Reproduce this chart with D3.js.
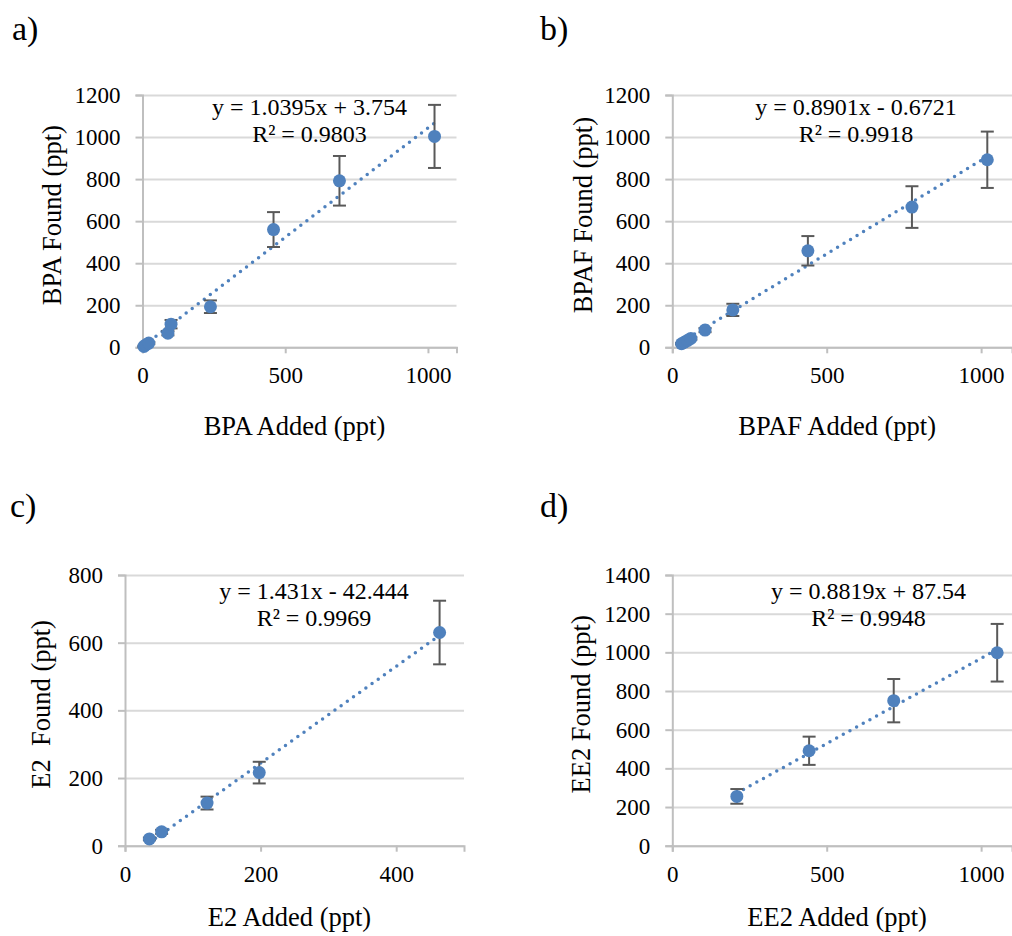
<!DOCTYPE html>
<html>
<head>
<meta charset="utf-8">
<script src="https://cdn.jsdelivr.net/npm/d3@7"></script>
<style>
	body { margin: 0; background: #fff; }
	svg text { font-family: "Liberation Serif", "Times New Roman", serif; fill: #000; }
</style>
</head>
<body>
<div id="chart-area"></div>
<script>
// values
let bpaAdded = [5, 12, 22, 89, 100, 238, 459, 690, 1023];
let bpaFound = [4, 12, 20, 67, 110, 193, 560, 792, 1003];
let bpaErr = [3, 4, 5, 10, 20, 30, 83, 118, 150];

let bpafAdded = [30, 40, 50, 60, 106, 196, 439, 776, 1020];
let bpafFound = [17, 25, 33, 42, 82, 178, 459, 667, 892];
let bpafErr = [3, 4, 5, 6, 10, 29, 70, 99, 134];

let e2Added = [36, 54, 121, 198, 464];
let e2Found = [20, 41, 126, 216, 630];
let e2Err = [4, 6, 19, 32, 94];

let ee2Added = [209, 443, 717, 1052];
let ee2Found = [255, 491, 750, 998];
let ee2Err = [38, 73, 112, 149];

// trendline y = slope*x + intercept
let slopes = [1.0395, 0.8901, 1.431, 0.8819];
let intercepts = [3.754, -0.6721, -42.444, 87.54];
let eqLabels = ["y = 1.0395x + 3.754", "y = 0.8901x - 0.6721", "y = 1.431x - 42.444", "y = 0.8819x + 87.54"];
let r2Labels = ["R² = 0.9803", "R² = 0.9918", "R² = 0.9969", "R² = 0.9948"];

let panelLabels = ["a)", "b)", "c)", "d)"];
let xTitles = ["BPA Added (ppt)", "BPAF Added (ppt)", "E2 Added (ppt)", "EE2 Added (ppt)"];
let yTitles = ["BPA Found (ppt)", "BPAF Found (ppt)", "E2  Found (ppt)", "EE2 Found (ppt)"];
let xTicks = [[0, 500, 1000], [0, 500, 1000], [0, 200, 400], [0, 500, 1000]];
let yTicks = [
	[0, 200, 400, 600, 800, 1000, 1200],
	[0, 200, 400, 600, 800, 1000, 1200],
	[0, 200, 400, 600, 800],
	[0, 200, 400, 600, 800, 1000, 1200, 1400]
];
let xMax = [1100, 1100, 500, 1100];

let serif = "'Liberation Serif', 'Times New Roman', serif";

let svg = d3.select("#chart-area").append("svg")
	.attr("width", 1012)
	.attr("height", 936)
	.style("font-family", serif);

svg.append("rect").attr("width", 1012).attr("height", 936).attr("fill", "#fff");

let blue = "#4f81bd";

// plot-area boxes for the four panels
let boxes = [
	{left: 142.5, top: 95, right: 456.5, bottom: 347.3, lx: 12, ly: 40, titleGap: 88},
	{left: 672.3, top: 95, right: 1012, bottom: 347.3, lx: 540, ly: 40, titleGap: 88},
	{left: 125, top: 575, right: 464, bottom: 845.7, lx: 10, ly: 517, titleGap: 80},
	{left: 672.3, top: 575, right: 1012, bottom: 845.7, lx: 540, ly: 517, titleGap: 80}
];

let panels = [
	{added: bpaAdded, found: bpaFound, err: bpaErr, eqX: 309.5, eqY: 115, yTitleX: 52},
	{added: bpafAdded, found: bpafFound, err: bpafErr, eqX: 856, eqY: 115, yTitleX: 583},
	{added: e2Added, found: e2Found, err: e2Err, eqX: 314, eqY: 599, yTitleX: 41},
	{added: ee2Added, found: ee2Found, err: ee2Err, eqX: 868.5, eqY: 599, yTitleX: 581}
];

panels.forEach((p, i) => drawPanel(p, boxes[i], i));

function drawPanel(p, box, i) {
	let data = p.added.map((x, k) => ({x: x, y: p.found[k], e: p.err[k]}));
	let yTop = yTicks[i][yTicks[i].length - 1];

	let x = d3.scaleLinear().domain([0, xMax[i]]).range([box.left, box.right]);
	let y = d3.scaleLinear().domain([0, yTop]).range([box.bottom, box.top]);

	let g = svg.append("g");

	// panel letter
	g.append("text")
		.attr("x", box.lx)
		.attr("y", box.ly)
		.style("font-size", "34px")
		.text(panelLabels[i]);

	// horizontal gridlines
	g.append("g")
		.attr("transform", "translate(" + box.left + ",0)")
		.call(d3.axisLeft(y).tickValues(yTicks[i]).tickSize(-(box.right - box.left)).tickFormat(""))
		.call(s => s.select(".domain").remove())
		.call(s => s.selectAll("line").attr("stroke", "#d9d9d9").attr("stroke-width", 2));

	// y axis
	let yAxis = g.append("g")
		.attr("transform", "translate(" + box.left + ",0)")
		.call(d3.axisLeft(y).tickValues(yTicks[i]).tickSizeOuter(0).tickSize(7).tickPadding(15).tickFormat(d3.format("d")))
		.attr("font-family", serif);
	yAxis.selectAll("line").attr("stroke", "#bfbfbf").attr("stroke-width", 2);
	yAxis.select(".domain").attr("stroke", "#bfbfbf").attr("stroke-width", 2);
	yAxis.selectAll("text").style("font-size", "23px").style("font-family", serif).attr("fill", "#000");

	// x axis
	let xAxis = g.append("g")
		.attr("transform", "translate(0," + box.bottom + ")")
		.call(d3.axisBottom(x).tickValues(xTicks[i]).tickSizeOuter(0).tickSize(6).tickFormat(d3.format("d")))
		.attr("font-family", serif);
	xAxis.selectAll("line").attr("stroke", "#bfbfbf").attr("stroke-width", 2);
	xAxis.select(".domain").attr("stroke", "#bfbfbf").attr("stroke-width", 2);
	xAxis.selectAll("text").style("font-size", "23px").style("font-family", serif).attr("fill", "#000")
		.attr("y", 36).attr("dy", null);

	// axis titles
	g.append("text")
		.attr("x", (box.left + box.right) / 2 - 5)
		.attr("y", box.bottom + box.titleGap)
		.attr("text-anchor", "middle")
		.style("font-size", "26.5px")
		.text(xTitles[i]);

	g.append("text")
		.attr("transform", "translate(" + p.yTitleX + "," + ((box.top + box.bottom) / 2 - 6) + ") rotate(-90)")
		.attr("text-anchor", "middle")
		.attr("dy", "0.35em")
		.style("font-size", "26.5px")
		.style("white-space", "pre")
		.attr("xml:space", "preserve")
		.text(yTitles[i]);

	// dotted linear trendline across the data range
	let x0 = d3.min(p.added), x1 = d3.max(p.added);
	g.append("line")
		.attr("x1", x(x0))
		.attr("y1", y(slopes[i] * x0 + intercepts[i]))
		.attr("x2", x(x1))
		.attr("y2", y(slopes[i] * x1 + intercepts[i]))
		.attr("stroke", blue)
		.attr("stroke-width", 3.5)
		.attr("stroke-linecap", "round")
		.attr("stroke-dasharray", "0,7.6");

	// error bars
	let bars = g.selectAll(".err").data(data).enter().append("g").attr("class", "err")
		.attr("stroke", "#595959").attr("stroke-width", 2);
	bars.append("line")
		.attr("x1", d => x(d.x)).attr("x2", d => x(d.x))
		.attr("y1", d => y(d.y - d.e)).attr("y2", d => y(d.y + d.e));
	bars.append("line")
		.attr("x1", d => x(d.x) - 6.5).attr("x2", d => x(d.x) + 6.5)
		.attr("y1", d => y(d.y + d.e)).attr("y2", d => y(d.y + d.e));
	bars.append("line")
		.attr("x1", d => x(d.x) - 6.5).attr("x2", d => x(d.x) + 6.5)
		.attr("y1", d => y(d.y - d.e)).attr("y2", d => y(d.y - d.e));

	// markers
	g.selectAll(".pt").data(data).enter().append("circle")
		.attr("class", "pt")
		.attr("cx", d => x(d.x))
		.attr("cy", d => y(d.y))
		.attr("r", 6.5)
		.attr("fill", blue);

	// trendline equation
	g.append("text")
		.attr("x", p.eqX).attr("y", p.eqY)
		.attr("text-anchor", "middle")
		.style("font-size", "24px")
		.text(eqLabels[i]);
	g.append("text")
		.attr("x", p.eqX).attr("y", p.eqY + 27)
		.attr("text-anchor", "middle")
		.style("font-size", "24px")
		.text(r2Labels[i]);
}
</script>
</body>
</html>
